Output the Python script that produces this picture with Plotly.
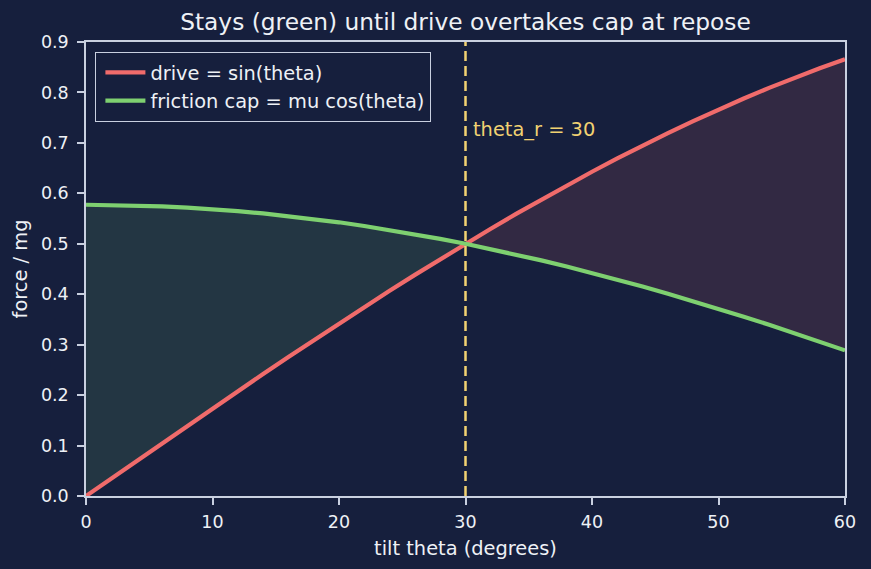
import plotly.graph_objects as go

theta_deg = [0, 2, 4, 6, 8, 10, 12, 14, 16, 18, 20, 22, 24, 26, 28, 30,
             32, 34, 36, 38, 40, 42, 44, 46, 48, 50, 52, 54, 56, 58, 60]
drive = [0.0000, 0.0349, 0.0698, 0.1045, 0.1392, 0.1736, 0.2079, 0.2419, 0.2756, 0.3090,
         0.3420, 0.3746, 0.4067, 0.4384, 0.4695, 0.5000, 0.5299, 0.5592, 0.5878, 0.6157,
         0.6428, 0.6691, 0.6947, 0.7193, 0.7431, 0.7660, 0.7880, 0.8090, 0.8290, 0.8480, 0.8660]
cap = [0.5774, 0.5770, 0.5759, 0.5742, 0.5717, 0.5686, 0.5647, 0.5602, 0.5550, 0.5491,
       0.5426, 0.5353, 0.5274, 0.5189, 0.5098, 0.5000, 0.4896, 0.4786, 0.4671, 0.4550,
       0.4423, 0.4291, 0.4153, 0.4011, 0.3863, 0.3711, 0.3555, 0.3394, 0.3229, 0.3059, 0.2887]
theta_r = 30

BG = "#161f3d"
FG = "#eef1f6"
SPINE = "#c9d0e0"
RED = "#f06b6b"
GREEN = "#7ed070"
YELLOW = "#f2d272"

i_r = theta_deg.index(theta_r)
fig = go.Figure()

# green fill region (stays)
fig.add_trace(go.Scatter(x=theta_deg[:i_r + 1], y=drive[:i_r + 1], mode="lines",
                         line=dict(width=0), showlegend=False, hoverinfo="skip"))
fig.add_trace(go.Scatter(x=theta_deg[:i_r + 1], y=cap[:i_r + 1], mode="lines",
                         line=dict(width=0), fill="tonexty",
                         fillcolor="rgba(126,208,112,0.13)", showlegend=False, hoverinfo="skip"))
# red fill region (slides)
fig.add_trace(go.Scatter(x=theta_deg[i_r:], y=cap[i_r:], mode="lines",
                         line=dict(width=0), showlegend=False, hoverinfo="skip"))
fig.add_trace(go.Scatter(x=theta_deg[i_r:], y=drive[i_r:], mode="lines",
                         line=dict(width=0), fill="tonexty",
                         fillcolor="rgba(240,107,107,0.13)", showlegend=False, hoverinfo="skip"))

fig.add_trace(go.Scatter(x=theta_deg, y=drive, mode="lines", name="drive = sin(theta)",
                         line=dict(color=RED, width=4.2)))
fig.add_trace(go.Scatter(x=theta_deg, y=cap, mode="lines", name="friction cap = mu cos(theta)",
                         line=dict(color=GREEN, width=4.2)))

fig.add_shape(type="line", x0=theta_r, x1=theta_r, y0=0, y1=1, xref="x", yref="paper",
              line=dict(color=YELLOW, width=2.5, dash="10px,5px"))
fig.add_annotation(x=theta_r, y=0.726, xref="x", yref="y", text="theta_r = 30",
                   showarrow=False, xanchor="left", xshift=5,
                   font=dict(color=YELLOW, size=19.4))

axis_common = dict(showgrid=False, zeroline=False, showline=True, linecolor=SPINE,
                   linewidth=1.5, mirror=True, ticks="outside", tickcolor=SPINE,
                   ticklen=7, tickwidth=1.5, tickfont=dict(color=FG, size=17.5))
fig.update_xaxes(range=[0, 60], tickvals=[0, 10, 20, 30, 40, 50, 60],
                 ticklabelstandoff=2,
                 title=dict(text="tilt theta (degrees)", font=dict(color=FG, size=19.4), standoff=11),
                 **axis_common)
fig.update_yaxes(range=[0, 0.9], tickvals=[0, 0.1, 0.2, 0.3, 0.4, 0.5, 0.6, 0.7, 0.8, 0.9],
                 tickformat=".1f", ticklabelstandoff=5,
                 title=dict(text="force / mg", font=dict(color=FG, size=19.4), standoff=8),
                 **axis_common)

fig.update_layout(
    width=871, height=569,
    paper_bgcolor=BG, plot_bgcolor=BG,
    font=dict(family="DejaVu Sans", color=FG),
    margin=dict(l=86, r=26, t=42, b=73),
    title=dict(text="Stays (green) until drive overtakes cap at repose",
               x=0.5, xanchor="center", y=1 - 22 / 569, yanchor="middle",
               xref="paper", font=dict(size=23.3, color=FG)),
    legend=dict(x=0.012, y=0.978, xanchor="left", yanchor="top",
                bgcolor=BG, bordercolor=SPINE, borderwidth=1.3, traceorder="normal",
                font=dict(size=19.4, color=FG), tracegroupgap=0, itemwidth=40,
                indentation=4),
    showlegend=True,
)

fig.write_html("out.html")
